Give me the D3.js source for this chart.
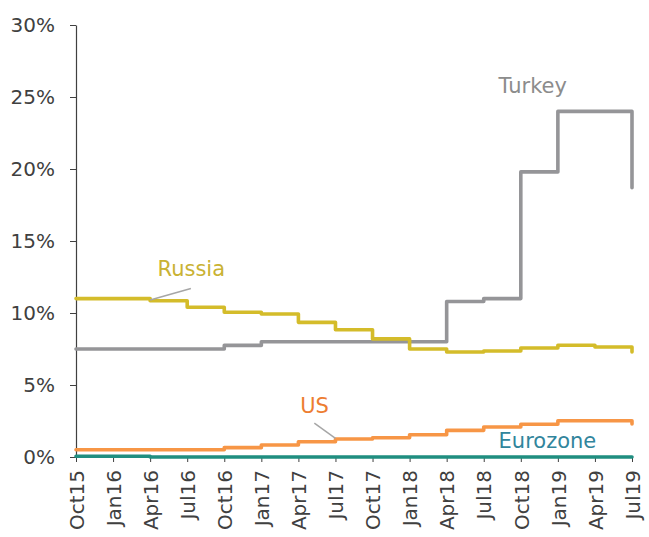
<!DOCTYPE html>
<html>
<head>
<meta charset="utf-8">
<script src="https://cdn.jsdelivr.net/npm/d3@7"></script>
<style>
    body { margin: 0; background: #ffffff; }
    svg text { font-family: "DejaVu Sans", "Liberation Sans", Arial, sans-serif; }
</style>
</head>
<body>
<div id="chart"></div>
<script>
var quarters = ["Oct15", "Jan16", "Apr16", "Jul16", "Oct16", "Jan17", "Apr17", "Jul17",
                "Oct17", "Jan18", "Apr18", "Jul18", "Oct18", "Jan19", "Apr19", "Jul19"];

var turkey   = [7.5, 7.5, 7.5, 7.5, 7.75, 8.0, 8.0, 8.0, 8.0, 8.0, 10.8, 11.0, 19.8, 24.0, 24.0, 18.7];
var russia   = [11.0, 11.0, 10.85, 10.4, 10.05, 9.93, 9.35, 8.84, 8.2, 7.5, 7.29, 7.36, 7.57, 7.76, 7.64, 7.29];
var us       = [0.5, 0.5, 0.5, 0.5, 0.65, 0.83, 1.06, 1.25, 1.34, 1.55, 1.85, 2.08, 2.27, 2.52, 2.52, 2.3];
var eurozone = [0.05, 0.05, 0, 0, 0, 0, 0, 0, 0, 0, 0, 0, 0, 0, 0, 0];

var yTicks = [0, 5, 10, 15, 20, 25, 30];

function drawChart(){
    var width = 649;
    var height = 537;

    var svg = d3.select("#chart").append("svg")
        .attr("width", width)
        .attr("height", height);

    var x = d3.scalePoint()
        .domain(quarters)
        .range([76, 632]);

    var y = d3.scaleLinear()
        .domain([0, 30])
        .range([457, 25]);

    /*****************  Axes **********************/

    var yAxis = svg.append("g")
        .attr("transform", "translate(76,0)")
        .call(d3.axisLeft(y)
            .tickValues(yTicks)
            .tickSize(6)
            .tickSizeOuter(0)
            .tickFormat(function (d){ return d + "%"; }));

    yAxis.select(".domain").attr("stroke", "#404040").attr("stroke-width", 1.2);
    yAxis.selectAll(".tick line").attr("stroke", "#404040");
    yAxis.selectAll(".tick text")
        .attr("x", -21)
        .attr("font-size", "20px")
        .attr("fill", "#404040");

    var xAxis = svg.append("g")
        .attr("transform", "translate(0,457)")
        .call(d3.axisBottom(x)
            .tickSize(5)
            .tickSizeOuter(0));

    xAxis.select(".domain").attr("stroke", "#404040").attr("stroke-width", 1.2);
    xAxis.selectAll(".tick line").attr("stroke", "#404040");
    xAxis.selectAll(".tick text")
        .attr("transform", "rotate(-90)")
        .attr("x", -13)
        .attr("y", 0)
        .attr("dy", "0.36em")
        .attr("text-anchor", "end")
        .attr("font-size", "20px")
        .attr("fill", "#404040");

    /*****************  Lines **********************/

    var series = [
        {name: "Eurozone", values: eurozone, color: "#1F8E80"},
        {name: "US", values: us, color: "#F79646"},
        {name: "Turkey", values: turkey, color: "#959598"},
        {name: "Russia", values: russia, color: "#D4BC2A"}
    ];

    var line = d3.line()
        .x(function (d, i){ return x(quarters[i]); })
        .y(function (d){ return y(d); })
        .curve(d3.curveStepAfter);

    svg.selectAll(".series")
        .data(series)
        .enter()
        .append("path")
        .attr("class", "series")
        .attr("d", function (d){ return line(d.values); })
        .attr("fill", "none")
        .attr("stroke", function (d){ return d.color; })
        .attr("stroke-width", 3.6)
        .attr("stroke-linejoin", "round")
        .attr("stroke-linecap", "round");

    /*****************  Leader lines **********************/

    var step = x.step();

    svg.append("line")
        .attr("x1", x("Apr16") + step * 1.1)
        .attr("y1", y(11.7))
        .attr("x2", x("Apr16"))
        .attr("y2", y(10.9))
        .attr("stroke", "#A6A6A6")
        .attr("stroke-width", 1.5);

    svg.append("line")
        .attr("x1", x("Jul17") - step * 0.57)
        .attr("y1", y(2.35))
        .attr("x2", x("Jul17"))
        .attr("y2", y(1.3))
        .attr("stroke", "#A6A6A6")
        .attr("stroke-width", 1.5);

    /*****************  Labels **********************/

    var labels = [
        {text: "Turkey", q: "Oct18", dx: -0.6, v: 25.3, color: "#8C8C8C"},
        {text: "Russia", q: "Apr16", dx: 0.2, v: 12.6, color: "#C9B233"},
        {text: "US", q: "Apr17", dx: 0.05, v: 3.05, color: "#ED7D31"},
        {text: "Eurozone", q: "Oct18", dx: -0.6, v: 0.65, color: "#31859C"}
    ];

    svg.selectAll(".label")
        .data(labels)
        .enter()
        .append("text")
        .attr("class", "label")
        .attr("x", function (d){ return x(d.q) + d.dx * step; })
        .attr("y", function (d){ return y(d.v); })
        .attr("font-size", "21px")
        .attr("fill", function (d){ return d.color; })
        .text(function (d){ return d.text; });
}

drawChart();
</script>
</body>
</html>
